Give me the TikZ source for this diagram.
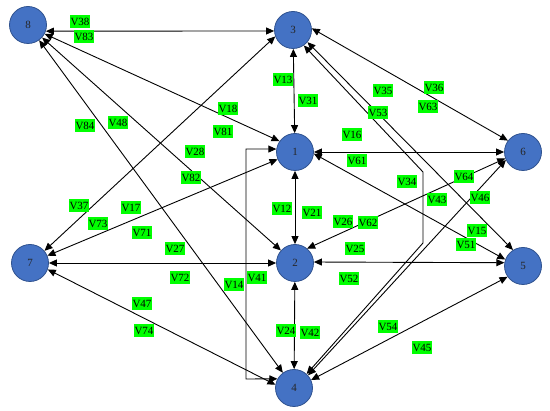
\documentclass[tikz,border=0pt]{standalone}
\usepackage{fontspec}
\setmainfont{Liberation Serif}
\usetikzlibrary{arrows.meta}
\definecolor{nodeblue}{RGB}{68,114,196}
\definecolor{nodeedge}{RGB}{47,82,143}
\definecolor{labgreen}{RGB}{0,255,0}
\begin{document}
\begin{tikzpicture}[x=1pt,y=-1pt,
  vtx/.style={circle,fill=nodeblue,draw=nodeedge,line width=0.8pt,minimum size=37pt,inner sep=0pt,text=black!85,font=\fontsize{11}{12}\selectfont},
  lab/.style={fill=labgreen,inner xsep=1pt,inner ysep=2pt,text height=8pt,text depth=1pt,font=\fontsize{11}{12}\selectfont},
  ar/.style={{Triangle[length=8pt,width=7pt]}-{Triangle[length=8pt,width=7pt]},line width=0.9pt,black}]
\useasboundingbox (0,0) rectangle (550,411);
% vertices
\node[vtx] (n8) at (28,25) {8};
\node[vtx] (n3) at (293,30) {3};
\node[vtx] (n1) at (295,152) {1};
\node[vtx] (n6) at (523,152) {6};
\node[vtx] (n7) at (30,263) {7};
\node[vtx] (n2) at (295,263) {2};
\node[vtx] (n5) at (523,266) {5};
\node[vtx] (n4) at (294,388) {4};
% bend points
\coordinate (k1) at (246,149);
\coordinate (k2) at (246,379);
\coordinate (k3) at (423,172);
\coordinate (k4) at (423,243);
% edges
\draw[ar] (n8.-19) -- (n3.183);
\draw[ar] (n8.-28) -- (n1.145);
\draw[ar] (n8) -- (n2);
\draw[ar] (n8) -- (n4);
\draw[ar] (n3.200) -- (n7.40);
\draw[ar] (n7) -- (n1);
\draw[ar] (n7) -- (n2);
\draw[ar] (n7.-20) -- (n4.170);
\draw[ar] (n3) -- (n1);
\draw[ar] (n1) -- (n2);
\draw[ar] (n2) -- (n4);
\draw[ar] (n1.171) -- (k1) -- (k2) -- (n4.151);
\draw[ar] (n3.5) -- (n6.143);
\draw[ar] (n3.-40) -- (n5.122);
\draw[ar] (n3.-55) -- (k3) -- (k4) -- (n4.48);
\draw[ar] (n1) -- (n6);
\draw[ar] (n1.-5) -- (n5.160);
\draw[ar] (n2.50) -- (n6.200);
\draw[ar] (n2.3) -- (n5.170);
\draw[ar] (n4.42) -- (n6.205);
\draw[ar] (n4.25) -- (n5.215);
% labels
\node[lab] (l38) at (80,22) {V38};
\node[lab] (l83) at (84,37) {V83};
\node[lab] (l18) at (228,109) {V18};
\node[lab] (l81) at (223,132) {V81};
\node[lab] (l28) at (195,152) {V28};
\node[lab] (l82) at (191,178) {V82};
\node[lab] (l84) at (85,126) {V84};
\node[lab] (l48) at (118,123) {V48};
\node[lab] (l37) at (79,206) {V37};
\node[lab] (l73) at (98,224) {V73};
\node[lab] (l17) at (131,208) {V17};
\node[lab] (l71) at (142,233) {V71};
\node[lab] (l27) at (175,249) {V27};
\node[lab] (l72) at (180,278) {V72};
\node[lab] (l47) at (142,304) {V47};
\node[lab] (l74) at (144,331) {V74};
\node[lab] (l13) at (283,80) {V13};
\node[lab] (l31) at (308,101) {V31};
\node[lab] (l12) at (282,209) {V12};
\node[lab] (l21) at (312,213) {V21};
\node[lab] (l24) at (286,331) {V24};
\node[lab] (l42) at (310,333) {V42};
\node[lab] (l14) at (234,285) {V14};
\node[lab] (l41) at (257,278) {V41};
\node[lab] (l36) at (434,88) {V36};
\node[lab] (l63) at (428,107) {V63};
\node[lab] (l35) at (383,91) {V35};
\node[lab] (l53) at (378,113) {V53};
\node[lab] (l34) at (407,182) {V34};
\node[lab] (l43) at (437,200) {V43};
\node[lab] (l16) at (352,135) {V16};
\node[lab] (l61) at (357,161) {V61};
\node[lab] (l15) at (477,231) {V15};
\node[lab] (l51) at (466,245) {V51};
\node[lab] (l26) at (343,222) {V26};
\node[lab] (l62) at (368,223) {V62};
\node[lab] (l25) at (355,249) {V25};
\node[lab] (l52) at (349,279) {V52};
\node[lab] (l46) at (480,198) {V46};
\node[lab] (l64) at (464,177) {V64};
\node[lab] (l54) at (388,327) {V54};
\node[lab] (l45) at (422,348) {V45};
\end{tikzpicture}
\end{document}
